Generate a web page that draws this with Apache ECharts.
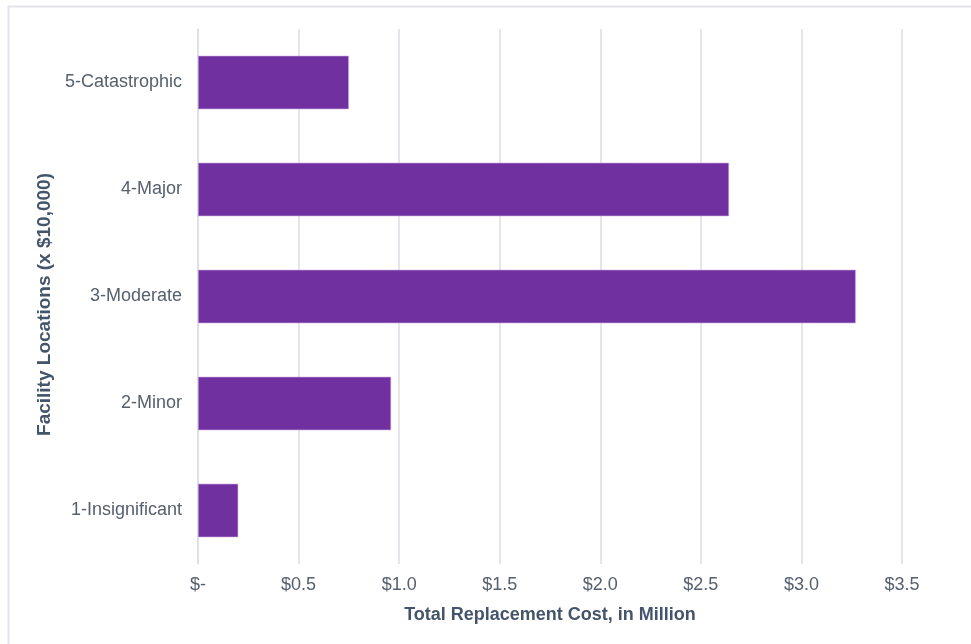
<!DOCTYPE html>
<html>
<head>
<meta charset="utf-8">
<style>
  html, body { margin: 0; padding: 0; background: #ffffff; }
  #chart { width: 971px; height: 644px; }
</style>
<script src="https://cdn.jsdelivr.net/npm/echarts@6/dist/echarts.min.js"></script>
</head>
<body>
<div id="chart"></div>
<script>
// Risk categories, bottom to top
const categories = ['1-Insignificant', '2-Minor', '3-Moderate', '4-Major', '5-Catastrophic'];
// Total replacement cost per category, in millions of dollars
const costValues = [0.20, 0.96, 3.27, 2.64, 0.75];
// Cost axis ticks
const costTicks = [0, 0.5, 1.0, 1.5, 2.0, 2.5, 3.0, 3.5];

const chart = echarts.init(document.getElementById('chart'));

const fontFamily = '"Liberation Sans", Arial, sans-serif';
const titleColor = '#44546A';
const labelColor = '#56606e';
const frameColor = '#e3e3ea';

chart.setOption({
  animation: false,
  backgroundColor: '#ffffff',
  grid: { left: 198, right: 69, top: 29, bottom: 80, containLabel: false },
  graphic: [
    { type: 'line', silent: true, shape: { x1: 8, y1: 6.5, x2: 971, y2: 6.5 }, style: { stroke: frameColor, lineWidth: 2 } },
    { type: 'line', silent: true, shape: { x1: 8.5, y1: 6, x2: 8.5, y2: 644 }, style: { stroke: frameColor, lineWidth: 2 } }
  ],
  xAxis: {
    type: 'value',
    min: costTicks[0],
    max: costTicks[costTicks.length - 1],
    interval: 0.5,
    name: 'Total Replacement Cost, in Million',
    nameLocation: 'middle',
    nameGap: 42,
    nameTextStyle: { color: titleColor, fontFamily: fontFamily, fontSize: 18, fontWeight: 'bold' },
    axisLine: { show: false },
    axisTick: { show: false },
    axisLabel: {
      color: labelColor,
      fontFamily: fontFamily,
      fontSize: 18,
      margin: 12,
      formatter: function (v) { return v === 0 ? '$-' : '$' + v.toFixed(1); }
    },
    splitLine: { show: true, lineStyle: { color: '#dcdce4', width: 1.5 } }
  },
  yAxis: {
    type: 'category',
    data: categories,
    name: 'Facility Locations (x $10,000)',
    nameLocation: 'middle',
    nameGap: 142,
    nameRotate: 90,
    nameTextStyle: { color: titleColor, fontFamily: fontFamily, fontSize: 19, fontWeight: 'bold', padding: [0, 16, 0, 0] },
    axisLine: { show: true, lineStyle: { color: '#dcdce4', width: 1.5 } },
    axisTick: { show: false },
    axisLabel: { color: labelColor, fontFamily: fontFamily, fontSize: 18, margin: 16, padding: [3, 0, 0, 0] }
  },
  series: [{
    type: 'bar',
    data: costValues,
    barWidth: '50%',
    itemStyle: { color: '#7030A0', borderColor: '#c9a6e0', borderWidth: 0.6 }
  }]
});
</script>
</body>
</html>
